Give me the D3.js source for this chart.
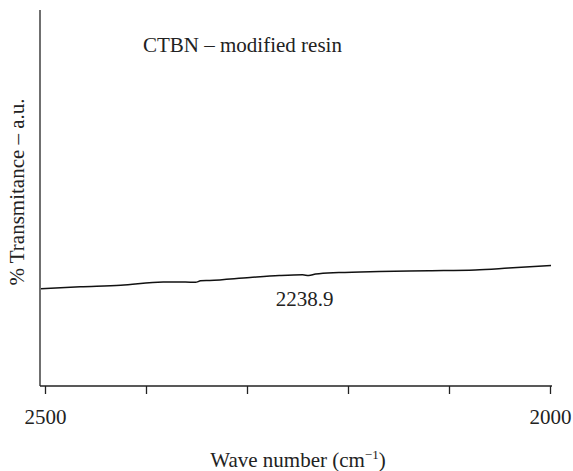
<!DOCTYPE html>
<html>
<head>
<meta charset="utf-8">
<script src="https://cdn.jsdelivr.net/npm/d3@7"></script>
<style>
  body { margin: 0; background: #fff; }
  text { font-family: "Liberation Serif", "Times New Roman", serif; fill: #222; }
</style>
</head>
<body>
<div id="container"></div>
<script>
// Data (wave number, % transmittance a.u.)
var waveNumber = [2504, 2465, 2425, 2383, 2361, 2351, 2346, 2337, 2297, 2268, 2245, 2238.9, 2232, 2209, 2169, 2120, 2074, 2041, 1999];
var transmittance = [26.4, 26.9, 27.3, 28.2, 28.2, 28.1, 28.5, 28.6, 29.4, 29.9, 30.1, 29.9, 30.3, 30.7, 31.0, 31.2, 31.4, 31.9, 32.6];
var tickValues = [2500, 2400, 2300, 2200, 2100, 2000];
var tickLabels = ["2500", "", "", "", "", "2000"];
var peakLabel = "2238.9";
var title = "CTBN \u2013 modified resin";

var w = 573, h = 471;
var plotLeft = 40, plotRight = 552, plotTop = 10, plotBottom = 386;

var svg = d3.select("#container").append("svg")
	.attr("width", w)
	.attr("height", h);

// Scales (reversed wave number axis)
var x = d3.scaleLinear().domain([2500, 2000]).range([45, 550]);
var y = d3.scaleLinear().domain([0, 100]).range([plotBottom + 2, plotTop + 2]);

// Y axis line (no ticks)
svg.append("line")
	.attr("x1", plotLeft).attr("x2", plotLeft)
	.attr("y1", plotTop).attr("y2", plotBottom)
	.attr("stroke", "#222").attr("stroke-width", 1.3);

// X axis
var xAxis = d3.axisBottom(x)
	.tickValues(tickValues)
	.tickSize(8)
	.tickFormat(function(d, i) { return tickLabels[i]; });

var gx = svg.append("g")
	.attr("transform", "translate(0," + plotBottom + ")")
	.call(xAxis);
gx.select(".domain").remove();
gx.append("line")
	.attr("x1", plotLeft).attr("x2", plotRight)
	.attr("y1", 0).attr("y2", 0)
	.attr("stroke", "#222").attr("stroke-width", 1.3);
gx.selectAll(".tick line").attr("stroke", "#222").attr("stroke-width", 1.3);
gx.selectAll(".tick text")
	.attr("y", 38)
	.attr("dy", null)
	.style("font-size", "21px")
	.style("font-family", "Liberation Serif, serif")
	.attr("fill", "#222");

// Spectrum line
var points = waveNumber.map(function(d, i) { return [d, transmittance[i]]; });
var line = d3.line()
	.x(function(d) { return x(d[0]); })
	.y(function(d) { return y(d[1]); })
	.curve(d3.curveMonotoneX);

svg.append("path")
	.datum(points)
	.attr("d", line)
	.attr("fill", "none")
	.attr("stroke", "#111")
	.attr("stroke-width", 1.5);

// Peak label
svg.append("text")
	.attr("x", x(2238.9) - 4)
	.attr("y", y(29.9) + 30)
	.attr("text-anchor", "middle")
	.style("font-size", "21px")
	.text(peakLabel);

// Title inside the plot
svg.append("text")
	.attr("x", 143)
	.attr("y", 52)
	.style("font-size", "21px")
	.text(title);

// Axis titles
var xl = svg.append("text")
	.attr("x", 298)
	.attr("y", 467)
	.attr("text-anchor", "middle")
	.style("font-size", "21px");
xl.append("tspan").text("Wave number (cm");
xl.append("tspan").attr("dy", -8).style("font-size", "13px").text("\u22121");
xl.append("tspan").attr("dy", 8).text(")");

svg.append("text")
	.attr("transform", "translate(24,192) rotate(-90)")
	.attr("text-anchor", "middle")
	.style("font-size", "21px")
	.text("% Transmitance \u2013 a.u.");
</script>
</body>
</html>
